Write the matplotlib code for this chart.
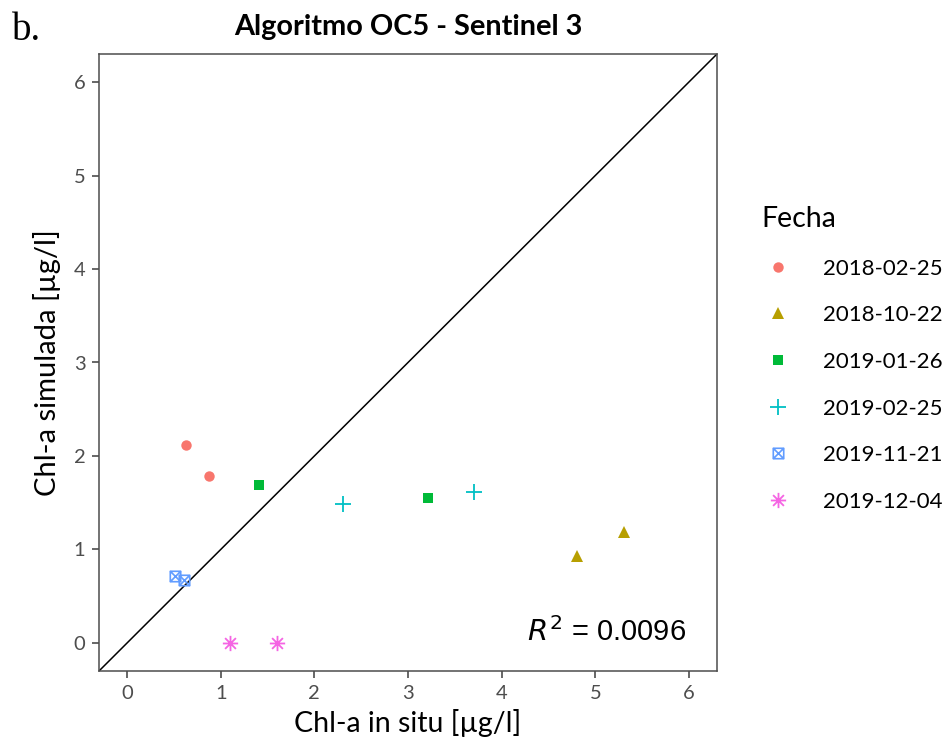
import matplotlib
matplotlib.use("Agg")
import matplotlib.pyplot as plt
from matplotlib.path import Path
from matplotlib.lines import Line2D
import numpy as np

fechas = ["2018-02-25", "2018-10-22", "2019-01-26", "2019-02-25", "2019-11-21", "2019-12-04"]
insitu = [[0.63, 0.88], [4.81, 5.31], [1.41, 3.21], [2.31, 3.70], [0.51, 0.61], [1.10, 1.60]]
simulada = [[2.12, 1.79], [0.93, 1.19], [1.69, 1.55], [1.49, 1.615], [0.72, 0.67], [0.0, 0.0]]
colores = ["#F8766D", "#B79F00", "#00BA38", "#00BFC4", "#619CFF", "#F564E3"]
ticks = [0, 1, 2, 3, 4, 5, 6]
r2_text = "0.0096"

# boxed x marker
box_x = Path([(-1, -1), (1, -1), (1, 1), (-1, 1), (-1, -1), (-1, -1), (1, 1), (-1, 1), (1, -1)],
             [Path.MOVETO, Path.LINETO, Path.LINETO, Path.LINETO, Path.CLOSEPOLY,
              Path.MOVETO, Path.LINETO, Path.MOVETO, Path.LINETO])
aster = Path([(0, -1), (0, 1), (-1, 0), (1, 0), (-0.707, -0.707), (0.707, 0.707), (-0.707, 0.707), (0.707, -0.707)],
             [Path.MOVETO, Path.LINETO] * 4)

styles = [
    dict(marker="o", ms=7.5, mew=0, filled=True),
    dict(marker="^", ms=9, mew=0, filled=True),
    dict(marker="s", ms=7, mew=0, filled=True),
    dict(marker="+", ms=12, mew=1.3, filled=False),
    dict(marker=box_x, ms=7.5, mew=1.2, filled=False),
    dict(marker=aster, ms=11, mew=1.3, filled=False),
]

plt.rcParams['font.family'] = ['Lato', 'DejaVu Sans']

fig = plt.figure(figsize=(9.48, 7.47), dpi=100)
ax = fig.add_axes([99/948, 1 - 671/747, 618/948, 617/747])

lo, hi = -0.3, 6.3
ax.set_xlim(lo, hi)
ax.set_ylim(lo, hi)
ax.plot([lo, hi], [lo, hi], color="black", lw=1.1, zorder=1)

handles = []
for f, xs, ys, c, st in zip(fechas, insitu, simulada, colores, styles):
    kw = dict(marker=st["marker"], markersize=st["ms"], markeredgewidth=st["mew"], linestyle="none")
    if st["filled"]:
        kw.update(markerfacecolor=c, markeredgecolor=c)
    else:
        kw.update(markerfacecolor="none", markeredgecolor=c)
    ax.plot(xs, ys, zorder=3, **kw)
    handles.append(Line2D([], [], label=f, **kw))

ax.set_xticks(ticks)
ax.set_yticks(ticks)
ax.tick_params(colors="#4D4D4D", labelsize=14.5, length=5.3, width=1.2, pad=4.5,
               labelcolor="#4D4D4D")
for s in ax.spines.values():
    s.set_color("#4D4D4D")
    s.set_linewidth(1.1)

ax.set_xlabel("Chl-a in situ [µg/l]", fontsize=20.5, color="black", labelpad=5)
ax.set_ylabel("Chl-a simulada [µg/l]", fontsize=21, color="black", labelpad=9)
ax.set_title("Algoritmo OC5 - Sentinel 3", fontsize=20.8, fontweight="bold", pad=14)

ax.text(5.97, 0.12, "$R^2$ = " + r2_text, ha="right", va="center", fontsize=21,
        family="Liberation Sans")

fig.text(12/948, 1 - 31/747, "b.", fontsize=28, family="Liberation Serif", va="center", ha="left")

leg = fig.legend(handles=handles, title="Fecha", loc="upper left",
                 bbox_to_anchor=(752/948, 1 - 197/747), frameon=False,
                 fontsize=16, title_fontsize=20.5, labelspacing=1.2,
                 handlelength=1.5, handletextpad=1.3, borderaxespad=0)
leg._legend_box.align = "left"

fig.savefig("out.png", dpi=100, facecolor="white")
